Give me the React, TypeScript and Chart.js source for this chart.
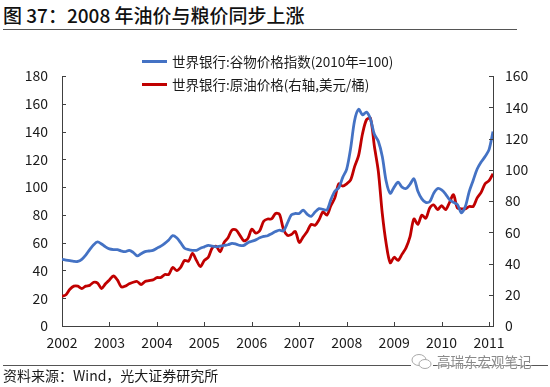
import React, { useEffect, useRef } from "react";
import { Chart, registerables } from "chart.js";

Chart.register(...registerables);

// ---- Data (monthly, Jan 2002 – Feb 2011) ----
const startYear = 2002;
const yearTicks = ["2002", "2003", "2004", "2005", "2006", "2007", "2008", "2009", "2010", "2011"];

// 世界银行:谷物价格指数(2010年=100) — left axis
const grainIndex = [
  48, 47.5, 47, 46.5, 46.5, 48, 51, 55, 58.5, 60.5, 59, 57, // 2002
  55.5, 55, 55, 54, 53.5, 54.5, 53, 50.5, 52, 53.5, 54, 54.5, // 2003
  56, 57.5, 59.5, 62, 65, 63.5, 60, 56, 55, 54.5, 54.5, 56, // 2004
  57, 58, 57.5, 57, 57.5, 58, 58.5, 59.5, 59, 58, 58, 60, // 2005
  61, 62, 63.5, 64.5, 65, 66.5, 68, 69, 68.5, 74, 80, 81, // 2006
  81, 83.5, 80.5, 79, 82, 84.5, 84, 83.5, 91, 97, 99.5, 107, // 2007
  113, 128, 148, 156, 152, 154, 149, 138, 133, 122, 104, 95.5, // 2008
  100, 103.5, 100, 99, 102, 106, 97, 91.5, 89, 89.5, 95.5, 99, // 2009
  98, 95, 91, 89, 87.5, 81.5, 86, 97, 105, 113, 118, 122, // 2010
  127, 140, // 2011
];

// 世界银行:原油价格(右轴,美元/桶) — right axis
const crudeOil = [
  19, 20, 23.5, 25.5, 25.5, 24, 25.5, 26, 28, 27.5, 24, 27, // 2002
  29.5, 32, 29.5, 25, 25.5, 27, 28, 28.5, 26.5, 28.5, 29, 29.5, // 2003
  31, 31, 33, 33, 37.5, 35.5, 37.5, 42, 41.5, 46.5, 42, 38, // 2004
  42, 44, 50, 51, 47.5, 53.5, 56.5, 61.5, 61.5, 58, 54.5, 56, // 2005
  62, 59.5, 61, 67, 68.5, 68.5, 72, 71.5, 62, 58, 58.5, 60.5, // 2006
  53.5, 57, 60.5, 65, 64.5, 68, 73, 71, 77, 82, 91, 89.5, // 2007
  91, 93.5, 102, 109, 123, 132, 133, 115, 99, 72, 52.5, 40.5, // 2008
  44, 42, 46, 50, 57, 68.5, 65, 71, 69, 75.5, 77.5, 74.5, // 2009
  77, 74.5, 79, 84, 75.5, 75, 75, 76.5, 76.5, 82, 85.5, 91, // 2010
  93, 97.5, // 2011
];

const seriesNames = ["世界银行:谷物价格指数(2010年=100)", "世界银行:原油价格(右轴,美元/桶)"];
const seriesColors = ["#4472C4", "#C00000"];

const FONT = "'Noto Sans CJK SC', 'Noto Sans', sans-serif";
const AXIS_COLOR = "#404040";
const TEXT_COLOR = "#1a1a1a";

const inwardTicks = {
  id: "inwardTicks",
  afterDraw(chart: any) {
    const ctx = chart.ctx;
    const { left, right, bottom } = chart.chartArea;
    const len = 4;
    ctx.save();
    ctx.strokeStyle = AXIS_COLOR;
    ctx.lineWidth = 1;
    ctx.beginPath();
    const xs = chart.scales.x;
    xs.ticks.forEach((t: any) => {
      const px = Math.round(xs.getPixelForValue(t.value)) + 0.5;
      ctx.moveTo(px, bottom);
      ctx.lineTo(px, bottom - len);
    });
    const yl = chart.scales.y;
    yl.ticks.forEach((t: any) => {
      const py = Math.round(yl.getPixelForValue(t.value)) + 0.5;
      ctx.moveTo(left, py);
      ctx.lineTo(left + len, py);
    });
    const yr = chart.scales.y1;
    yr.ticks.forEach((t: any) => {
      const py = Math.round(yr.getPixelForValue(t.value)) + 0.5;
      ctx.moveTo(right, py);
      ctx.lineTo(right - len, py);
    });
    ctx.stroke();
    ctx.restore();
  },
};

export default function App() {
  const canvasRef = useRef<HTMLCanvasElement | null>(null);

  useEffect(() => {
    if (!canvasRef.current) return;
    const grainPts = grainIndex.map((v, i) => ({ x: i, y: v }));
    const oilPts = crudeOil.map((v, i) => ({ x: i, y: v }));
    const lastIdx = grainIndex.length - 1;

    const chart = new Chart(canvasRef.current, {
      type: "line",
      data: {
        datasets: [
          {
            label: seriesNames[0],
            data: grainPts,
            borderColor: seriesColors[0],
            backgroundColor: seriesColors[0],
            borderWidth: 2.8,
            pointRadius: 0,
            tension: 0.3,
            yAxisID: "y",
          },
          {
            label: seriesNames[1],
            data: oilPts,
            borderColor: seriesColors[1],
            backgroundColor: seriesColors[1],
            borderWidth: 2.8,
            pointRadius: 0,
            tension: 0.3,
            yAxisID: "y1",
          },
        ],
      },
      options: {
        animation: false,
        responsive: false,
        devicePixelRatio: 1,
        layout: { padding: { top: 76, bottom: 31, left: 0, right: 0 } },
        plugins: { legend: { display: false }, tooltip: { enabled: false } },
        scales: {
          x: {
            type: "linear",
            min: 0,
            max: lastIdx,
            grid: { display: false, drawTicks: false },
            border: { display: true, color: AXIS_COLOR, width: 1 },
            ticks: {
              stepSize: 12,
              includeBounds: false,
              autoSkip: false,
              maxRotation: 0,
              padding: 8,
              color: TEXT_COLOR,
              font: { family: FONT, size: 14 },
              callback: (v: any) => {
                const idx = Math.round(Number(v) / 12);
                return yearTicks[idx] ?? String(startYear + idx);
              },
            },
            afterFit: (s: any) => {
              s.height = 30;
            },
          },
          y: {
            position: "left",
            min: 0,
            max: 180,
            grid: { display: false, drawTicks: false },
            border: { display: true, color: AXIS_COLOR, width: 1 },
            ticks: {
              stepSize: 20,
              padding: 14,
              color: TEXT_COLOR,
              font: { family: FONT, size: 14 },
            },
            afterFit: (s: any) => {
              s.width = 62;
            },
          },
          y1: {
            position: "right",
            min: 0,
            max: 160,
            grid: { display: false, drawTicks: false },
            border: { display: true, color: AXIS_COLOR, width: 1 },
            ticks: {
              stepSize: 20,
              padding: 12,
              color: TEXT_COLOR,
              font: { family: FONT, size: 14 },
            },
            afterFit: (s: any) => {
              s.width = 57;
            },
          },
        },
      },
      plugins: [inwardTicks],
    });
    return () => chart.destroy();
  }, []);

  const text: React.CSSProperties = { position: "absolute", fontFamily: FONT, color: TEXT_COLOR, whiteSpace: "nowrap" };

  return (
    <div style={{ position: "absolute", left: 0, top: 0, width: 550, height: 387, background: "#fff", overflow: "hidden" }}>
      <div style={{ ...text, left: 3, top: 1, fontSize: 19, lineHeight: "27px", fontWeight: 500, color: "#111" }}>
        图 37：2008 年油价与粮价同步上涨
      </div>
      <div style={{ position: "absolute", left: 3, top: 29, width: 514, height: 1, background: "#555" }} />
      <canvas ref={canvasRef} width={550} height={387} style={{ position: "absolute", left: 0, top: 0, width: 550, height: 387 }} />
      {seriesNames.map((name, i) => (
        <div key={name} style={{ position: "absolute", left: 142, top: 51 + i * 23, height: 20, display: "flex", alignItems: "center" }}>
          <div style={{ width: 25, height: 3, background: seriesColors[i], marginRight: 5 }} />
          <span style={{ fontFamily: FONT, fontSize: 13.5, color: TEXT_COLOR, lineHeight: "20px" }}>{name}</span>
        </div>
      ))}
      <div style={{ position: "absolute", left: 3, top: 365, width: 545, height: 1, background: "#555" }} />
      <div style={{ ...text, left: 3, top: 365, fontSize: 14, lineHeight: "20px" }}>资料来源：Wind，光大证券研究所</div>
      <svg style={{ position: "absolute", left: 411, top: 352 }} width={22} height={20} viewBox="0 0 22 20">
        <rect x={0} y={0} width={22} height={20} fill="#fff" />
        <ellipse cx={8} cy={8} rx={7} ry={5.5} fill="#fff" stroke="#aaa" strokeWidth={1} />
        <ellipse cx={14} cy={12} rx={6} ry={4.5} fill="#fff" stroke="#aaa" strokeWidth={1} />
      </svg>
      <div style={{ ...text, left: 437, top: 352, fontSize: 13.5, lineHeight: "18px", color: "#8a8a8a", textShadow: "0 0 2px #fff, 0 0 2px #fff" }}>
        高瑞东宏观笔记
      </div>
    </div>
  );
}
